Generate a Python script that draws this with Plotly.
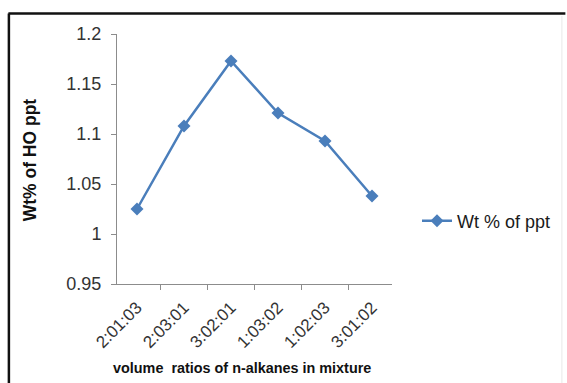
import plotly.graph_objects as go

# Mixture volume ratios and measured precipitate weight percent
ratios = ["2:01:03", "2:03:01", "3:02:01", "1:03:02", "1:02:03", "3:01:02"]
wt_ppt = [1.025, 1.108, 1.173, 1.121, 1.093, 1.038]

y_ticks = [0.95, 1.0, 1.05, 1.1, 1.15, 1.2]
y_tick_text = ["0.95", "1", "1.05", "1.1", "1.15", "1.2"]

W, H = 567, 383
L, R, T, B = 117, 174, 34, 99

line_color = "#4A7EBB"
axis_color = "#8C8C8C"
text_color = "#333333"
font_family = "Liberation Sans, Arial, sans-serif"

fig = go.Figure()
fig.add_trace(go.Scatter(
    x=ratios, y=wt_ppt, mode="lines+markers", name="Wt % of ppt",
    line=dict(color=line_color, width=2.5),
    marker=dict(symbol="diamond", size=10, color=line_color),
))

# pixel -> paper coordinate helpers
pw, ph = W - L - R, H - T - B
def px(x):
    return (x - L) / pw
def py(y):
    return (H - B - y) / ph

# outer frame: top and left dark, right faint
fig.add_shape(type="line", xref="paper", yref="paper",
              x0=px(8), x1=px(567), y0=py(13.5), y1=py(13.5),
              line=dict(color="#111111", width=2.5))
fig.add_shape(type="line", xref="paper", yref="paper",
              x0=px(8.5), x1=px(8.5), y0=py(13.5), y1=py(383),
              line=dict(color="#111111", width=2.5))
fig.add_shape(type="line", xref="paper", yref="paper",
              x0=px(563.5), x1=px(563.5), y0=py(16), y1=py(383),
              line=dict(color="#E8E8E8", width=1))

# axis titles
fig.add_annotation(text="<b>volume  ratios of n-alkanes in mixture</b>",
                   xref="paper", yref="paper", x=px(242), y=py(368),
                   xanchor="center", yanchor="middle", showarrow=False,
                   font=dict(size=14.4, color="#111111"))
fig.add_annotation(text="<b>Wt% of HO ppt</b>", textangle=-90,
                   xref="paper", yref="paper", x=px(30), y=py(160),
                   xanchor="center", yanchor="middle", showarrow=False,
                   font=dict(size=17.5, color="#111111"))

fig.update_layout(
    width=W, height=H,
    margin=dict(l=L, r=R, t=T, b=B),
    paper_bgcolor="white", plot_bgcolor="white",
    font=dict(family=font_family, size=15, color=text_color),
    showlegend=True,
    legend=dict(x=px(417), y=py(221), xanchor="left", yanchor="middle",
                font=dict(size=18, color="#1a1a1a"), bgcolor="rgba(0,0,0,0)",
                itemwidth=30),
    xaxis=dict(
        type="category", tickson="boundaries", tickangle=-45,
        automargin=False,
        showline=True, linecolor=axis_color, linewidth=1,
        ticks="outside", tickcolor=axis_color, ticklen=5,
        ticklabelstandoff=6,
        showgrid=False, zeroline=False,
        tickfont=dict(size=17, color=text_color),
    ),
    yaxis=dict(
        range=[0.95, 1.2], tickvals=y_ticks, ticktext=y_tick_text,
        automargin=False,
        showline=True, linecolor=axis_color, linewidth=1,
        ticks="outside", tickcolor=axis_color, ticklen=5,
        ticklabelstandoff=6,
        showgrid=False, zeroline=False,
        tickfont=dict(size=18, color=text_color),
    ),
)

fig.write_html("out.html")
